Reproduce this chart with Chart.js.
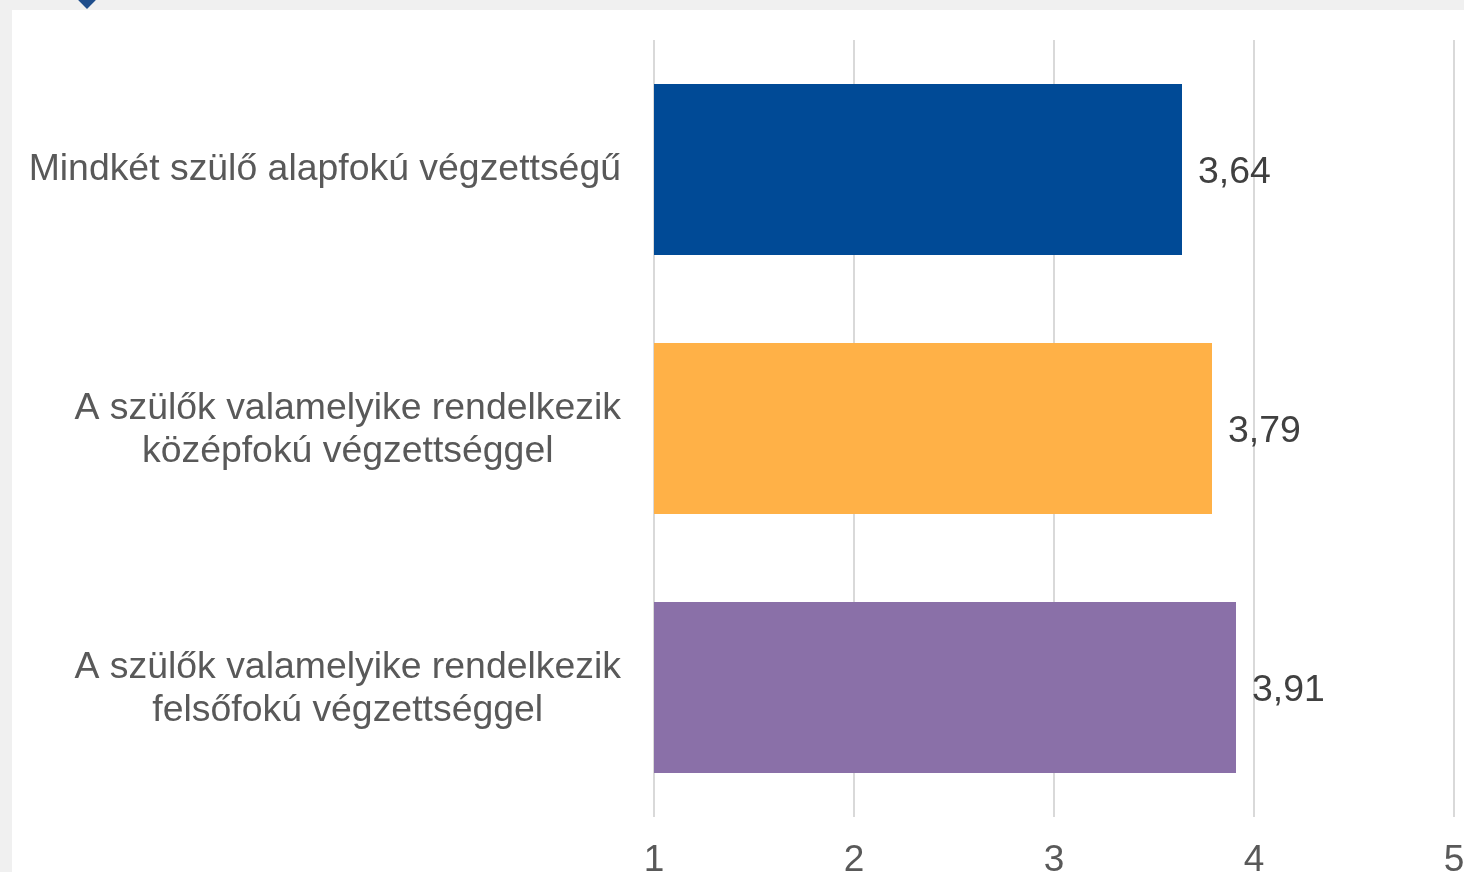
<!DOCTYPE html>
<html>
<head>
<meta charset="utf-8">
<script src="https://cdn.jsdelivr.net/npm/chart.js@4.4.0/dist/chart.umd.min.js"></script>
<style>
  html, body { margin: 0; padding: 0; background: #f0f0f0; overflow: hidden; }
  #panel { position: absolute; left: 12px; top: 10px; width: 1452px; height: 862px; background: #fff; }
  #marker { position: absolute; left: 80px; top: -8px; width: 14px; height: 14px; background: #1f4e8c; transform: rotate(45deg); }
</style>
</head>
<body>
<div id="marker"></div>
<div id="panel"><canvas id="chart" width="1452" height="862"></canvas></div>
<script>
// Chart data
const categories = [
    ['Mindkét szülő alapfokú végzettségű'],
    ['A szülők valamelyike rendelkezik', 'középfokú végzettséggel'],
    ['A szülők valamelyike rendelkezik', 'felsőfokú végzettséggel']
];
const values = [3.64, 3.79, 3.91];
const valueLabels = ['3,64', '3,79', '3,91'];
const barColors = ['#004a96', '#ffb147', '#8a70a8'];
const xTicks = [1, 2, 3, 4, 5];

const FONT = '"Liberation Sans", Arial, sans-serif';

// Draws category labels (right aligned block, centred lines) and value labels
const labelPlugin = {
    id: 'labelPlugin',
    afterDraw(chart) {
        const ctx = chart.ctx;
        const yScale = chart.scales.y;
        const xScale = chart.scales.x;
        ctx.save();
        ctx.font = '37.4px ' + FONT;
        ctx.textBaseline = 'middle';

        // category labels
        ctx.fillStyle = '#595959';
        ctx.textAlign = 'center';
        const rightEdge = chart.chartArea.left - 33;
        const lineH = 43;
        categories.forEach((lines, i) => {
            const w = Math.max(...lines.map(l => ctx.measureText(l).width));
            const cx = rightEdge - w / 2;
            const cy = yScale.getPixelForValue(i) + (lines.length > 1 ? 2 : 0);
            const startY = cy - (lines.length - 1) * lineH / 2;
            lines.forEach((l, j) => ctx.fillText(l, cx, startY + j * lineH));
        });

        // value labels
        ctx.fillStyle = '#404040';
        ctx.textAlign = 'left';
        values.forEach((v, i) => {
            ctx.fillText(valueLabels[i], xScale.getPixelForValue(v) + 16, yScale.getPixelForValue(i) + 3);
        });
        ctx.restore();
    }
};

const ctx = document.getElementById('chart').getContext('2d');
new Chart(ctx, {
    type: 'bar',
    data: {
        labels: categories,
        datasets: [{
            data: values,
            backgroundColor: barColors,
            borderWidth: 0,
            barPercentage: 0.66,
            categoryPercentage: 1.0
        }]
    },
    options: {
        indexAxis: 'y',
        responsive: false,
        animation: false,
        layout: { padding: { top: 30, right: 10, left: 0, bottom: 0 } },
        plugins: {
            legend: { display: false },
            tooltip: { enabled: false }
        },
        scales: {
            x: {
                min: 1,
                max: 5,
                afterBuildTicks: (scale) => { scale.ticks = xTicks.map(v => ({ value: v })); },
                afterFit: (scale) => {
                    scale.height = 55;
                    scale.paddingLeft = 0;
                    scale.paddingRight = 0;
                },
                grid: { color: '#d9d9d9', lineWidth: 2, drawTicks: false },
                border: { display: false },
                ticks: {
                    padding: 22,
                    color: '#595959',
                    font: { size: 37, family: FONT }
                }
            },
            y: {
                afterFit: (scale) => { scale.width = 642; },
                grid: { display: false },
                border: { display: false },
                ticks: { display: true, color: 'rgba(0,0,0,0)', callback: () => '' }
            }
        }
    },
    plugins: [labelPlugin]
});
</script>
</body>
</html>
